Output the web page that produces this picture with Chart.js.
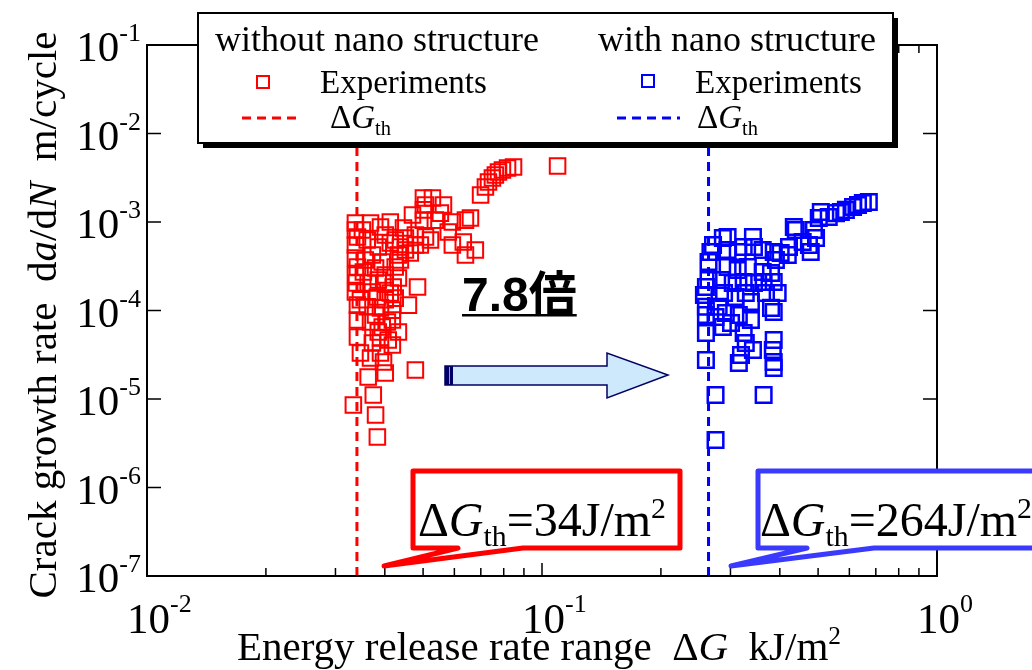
<!DOCTYPE html>
<html>
<head>
<meta charset="utf-8">
<script src="https://cdn.jsdelivr.net/npm/chart.js@4.4.0/dist/chart.umd.min.js"></script>
<style>
  html, body { margin: 0; padding: 0; background: #fff; }
  #wrap { width: 1032px; height: 670px; position: relative; }
</style>
</head>
<body>
<div id="wrap"><canvas id="grafico"></canvas></div>
<script>
// eixo x: ΔG (kJ/m2), eixo y: da/dN (m/cycle)
const semNanoDG = [0.0699, 0.0719, 0.0732, 0.0749, 0.0762, 0.0776, 0.0794, 0.0818, 0.0847, 0.1095,
  0.0501, 0.0507, 0.0501, 0.0528, 0.0563, 0.0537, 0.0501, 0.0593, 0.0640, 0.0659,
  0.0579, 0.0593, 0.0632, 0.0678, 0.0640, 0.0337, 0.0341, 0.0337, 0.0341, 0.0337,
  0.0341, 0.0341, 0.0347, 0.0368, 0.0390, 0.0413, 0.0446, 0.0361, 0.0385, 0.0413,
  0.0438, 0.0464, 0.0357, 0.0379, 0.0401, 0.0425, 0.0363, 0.0401, 0.0420, 0.0383,
  0.0413, 0.0361, 0.0390, 0.0418, 0.0368, 0.0394, 0.0418, 0.0433, 0.0372, 0.0390,
  0.0408, 0.0368, 0.0390, 0.0401, 0.0363, 0.0374, 0.0333, 0.0379, 0.0383, 0.0484,
  0.0459, 0.0478, 0.0351, 0.0401, 0.0425, 0.0451, 0.0478, 0.0372, 0.0394, 0.0438,
  0.0353, 0.0385, 0.0433, 0.0372, 0.0401, 0.0425, 0.0379, 0.0406, 0.0385, 0.0418,
  0.0397, 0.0347, 0.0470, 0.0553, 0.0522, 0.0492, 0.0478, 0.0507, 0.0451, 0.0433,
  0.0337, 0.0337, 0.0337, 0.0341, 0.0339];
const semNanoTaxa = [2.02e-3, 2.49e-3, 2.83e-3, 3.14e-3, 3.40e-3, 3.67e-3, 3.87e-3, 4.07e-3, 4.18e-3, 4.30e-3,
  1.87e-3, 1.56e-3, 1.37e-3, 1.87e-3, 1.56e-3, 1.05e-3, 1.05e-3, 1.00e-3, 1.05e-3, 1.11e-3,
  7.72e-4, 5.50e-4, 5.95e-4, 4.83e-4, 4.24e-4, 9.75e-4, 6.77e-4, 3.92e-4, 3.10e-4, 1.62e-4,
  7.82e-5, 5.02e-5, 3.31e-5, 9.75e-4, 8.79e-4, 1.00e-3, 8.56e-4, 6.27e-4, 5.22e-4, 5.79e-4,
  5.22e-4, 4.47e-4, 3.72e-4, 3.02e-4, 2.52e-4, 3.10e-4, 2.05e-4, 2.05e-4, 1.84e-4, 1.42e-4,
  1.58e-4, 1.10e-4, 1.07e-4, 1.01e-4, 7.42e-5, 6.51e-5, 7.82e-5, 5.72e-5, 4.30e-5, 4.89e-5,
  4.64e-5, 2.91e-5, 3.31e-5, 1.97e-5, 1.77e-5, 1.11e-5, 8.55e-6, 6.59e-6, 3.72e-6, 1.84e-4,
  1.15e-4, 2.13e-5, 8.12e-4, 7.13e-4, 6.27e-4, 6.60e-4, 7.13e-4, 4.24e-4, 3.53e-4, 3.72e-4,
  2.72e-4, 2.21e-4, 2.33e-4, 1.62e-4, 1.32e-4, 1.38e-4, 8.90e-5, 7.42e-5, 5.72e-5, 4.07e-5,
  2.62e-5, 1.32e-4, 1.20e-3, 1.26e-3, 6.27e-4, 5.50e-4, 5.50e-4, 6.77e-4, 4.83e-4, 4.24e-4,
  8.12e-4, 5.50e-4, 2.52e-4, 1.15e-4, 2.05e-4];

const comNanoDG = [0.672, 0.649, 0.631, 0.613, 0.588, 0.571, 0.555, 0.532, 0.508, 0.502,
  0.434, 0.439, 0.488, 0.494, 0.479, 0.474, 0.457, 0.422, 0.419,
  0.295, 0.342, 0.287, 0.271, 0.267, 0.264, 0.264, 0.260, 0.257, 0.260,
  0.260, 0.260, 0.260, 0.275, 0.275, 0.364, 0.275, 0.280,
  0.295, 0.313, 0.324, 0.344, 0.362, 0.386, 0.402, 0.391,
  0.295, 0.313, 0.332, 0.362, 0.380,
  0.284, 0.304, 0.324, 0.344, 0.364, 0.386,
  0.289, 0.309, 0.328, 0.338, 0.369, 0.395,
  0.292, 0.315, 0.338, 0.380, 0.386,
  0.324, 0.328, 0.342, 0.319, 0.315,
  0.386, 0.384, 0.386, 0.386, 0.301, 0.287];
const comNanoTaxa = [1.68e-3, 1.64e-3, 1.56e-3, 1.48e-3, 1.37e-3, 1.30e-3, 1.26e-3, 1.14e-3, 1.30e-3, 1.11e-3,
  8.79e-4, 8.12e-4, 8.12e-4, 6.60e-4, 4.58e-4, 5.50e-4, 5.95e-4, 5.22e-4, 4.24e-4,
  6.77e-4, 6.77e-4, 6.60e-4, 5.50e-4, 4.58e-4, 3.53e-4, 2.21e-4, 1.84e-4, 1.50e-4, 1.10e-4,
  8.90e-5, 5.57e-5, 2.76e-5, 1.11e-5, 3.44e-6, 1.11e-5, 8.45e-5, 1.10e-4,
  4.83e-4, 4.58e-4, 5.22e-4, 5.22e-4, 4.83e-4, 4.58e-4, 4.47e-4, 3.72e-4,
  3.10e-4, 2.87e-4, 3.10e-4, 2.72e-4, 2.65e-4,
  2.21e-4, 2.05e-4, 2.10e-4, 2.05e-4, 2.10e-4, 2.10e-4,
  1.58e-4, 1.42e-4, 1.58e-4, 1.25e-4, 1.58e-4, 1.58e-4,
  9.37e-5, 8.90e-5, 7.82e-5, 1.07e-4, 9.62e-5,
  5.57e-5, 4.30e-5, 3.58e-5, 3.14e-5, 2.55e-5,
  4.64e-5, 3.58e-5, 2.62e-5, 2.24e-5, 7.23e-5, 6.51e-5];

const limiarSemNano = 0.034;   // ΔGth = 34 J/m2
const limiarComNano = 0.264;   // ΔGth = 264 J/m2
const faixaTaxa = [1e-7, 1e-1];
const decadasX = [0.01, 0.1, 1];
const rotulosX = ['-2', '-1', '0'];
const decadasY = [1e-7, 1e-6, 1e-5, 1e-4, 1e-3, 1e-2, 1e-1];
const rotulosY = ['-7', '-6', '-5', '-4', '-3', '-2', '-1'];

const serif = "'Liberation Serif','Times New Roman',serif";

function pares(xs, ys) { return xs.map((x, i) => ({ x: x, y: ys[i] })); }

// escreve texto com italico / subscrito / sobrescrito
function textoRico(ctx, partes, x, y, tam, alinha) {
  const fonte = p => (p.i ? 'italic ' : '') + ((p.sub || p.sup) ? tam * 0.62 : tam) + 'px ' + serif;
  let total = 0;
  partes.forEach(p => { ctx.font = fonte(p); p.w = ctx.measureText(p.t).width; total += p.w; });
  let cx = alinha === 'center' ? x - total / 2 : (alinha === 'right' ? x - total : x);
  partes.forEach(p => {
    ctx.font = fonte(p);
    const dy = p.sub ? tam * 0.2 : (p.sup ? -tam * 0.38 : 0);
    ctx.fillText(p.t, cx, y + dy);
    cx += p.w;
  });
  return total;
}

function balao(ctx, pts, cor) {
  ctx.save();
  ctx.beginPath();
  ctx.moveTo(pts[0][0], pts[0][1]);
  for (let i = 1; i < pts.length; i++) ctx.lineTo(pts[i][0], pts[i][1]);
  ctx.closePath();
  ctx.fillStyle = '#fff';
  ctx.fill();
  ctx.lineWidth = 5;
  ctx.lineJoin = 'round';
  ctx.strokeStyle = cor;
  ctx.stroke();
  ctx.restore();
}

const decoracao = {
  id: 'decoracao',
  afterDraw(chart) {
    const ctx = chart.ctx;
    const sx = chart.scales.x, sy = chart.scales.y;
    const a = chart.chartArea;
    ctx.save();
    ctx.strokeStyle = '#000';
    ctx.fillStyle = '#000';
    ctx.lineWidth = 2;
    ctx.strokeRect(a.left, a.top, a.right - a.left, a.bottom - a.top);

    // ticks x (maiores e menores, em cima e embaixo)
    ctx.lineWidth = 1.5;
    decadasX.forEach((d, k) => {
      for (let m = 1; m <= 9; m++) {
        if (k === decadasX.length - 1 && m > 1) break;
        const px = sx.getPixelForValue(d * m);
        const len = m === 1 ? 13 : 8;
        ctx.beginPath();
        ctx.moveTo(px, a.bottom); ctx.lineTo(px, a.bottom - len);
        ctx.moveTo(px, a.top); ctx.lineTo(px, a.top + len);
        ctx.stroke();
      }
    });
    // ticks y
    decadasY.forEach(d => {
      const py = sy.getPixelForValue(d);
      ctx.beginPath();
      ctx.moveTo(a.left, py); ctx.lineTo(a.left + 14, py);
      ctx.moveTo(a.right, py); ctx.lineTo(a.right - 14, py);
      ctx.stroke();
    });

    // rotulos dos ticks
    ctx.textBaseline = 'alphabetic';
    ctx.font = '43px ' + serif;
    const w10 = ctx.measureText('10').width;
    decadasY.forEach((d, i) => {
      const py = sy.getPixelForValue(d);
      ctx.font = '26px ' + serif;
      const ws = ctx.measureText(rotulosY[i]).width;
      const x0 = 141 - ws - w10;
      ctx.font = '43px ' + serif;
      ctx.fillText('10', x0, py + 16);
      ctx.font = '26px ' + serif;
      ctx.fillText(rotulosY[i], x0 + w10, py - 4);
    });
    decadasX.forEach((d, i) => {
      const px = sx.getPixelForValue(d);
      ctx.font = '43px ' + serif;
      ctx.fillText('10', px - 20, 633);
      ctx.font = '26px ' + serif;
      ctx.fillText(rotulosX[i], px - 20 + w10, 612);
    });

    // titulos dos eixos
    textoRico(ctx, [{ t: 'Energy release rate range  Δ' }, { t: 'G', i: true }, { t: '  kJ/m' }, { t: '2', sup: true }],
      539, 660, 41, 'center');
    ctx.save();
    ctx.translate(56, 315);
    ctx.rotate(-Math.PI / 2);
    textoRico(ctx, [{ t: 'Crack growth rate  d' }, { t: 'a', i: true }, { t: '/d' }, { t: 'N', i: true }, { t: '  m/cycle' }],
      0, 0, 41, 'center');
    ctx.restore();

    // legenda
    ctx.fillStyle = '#000';
    ctx.fillRect(203, 18, 695, 130);
    ctx.fillStyle = '#fff';
    ctx.fillRect(198, 13, 695, 130);
    ctx.lineWidth = 2;
    ctx.strokeStyle = '#000';
    ctx.strokeRect(198, 13, 695, 130);
    ctx.fillStyle = '#000';
    ctx.font = '36px ' + serif;
    ctx.fillText('without nano structure', 215, 51);
    ctx.fillText('with nano structure', 598, 51);
    ctx.font = '33px ' + serif;
    ctx.fillText('Experiments', 320, 93);
    ctx.fillText('Experiments', 695, 93);
    ctx.lineWidth = 2;
    ctx.strokeStyle = '#ff0000';
    ctx.strokeRect(257, 76, 12, 12);
    ctx.strokeStyle = '#0000ff';
    ctx.strokeRect(642, 75, 12, 12);
    ctx.lineWidth = 3;
    ctx.setLineDash([9, 6]);
    ctx.strokeStyle = '#ff0000';
    ctx.beginPath(); ctx.moveTo(242, 118); ctx.lineTo(302, 118); ctx.stroke();
    ctx.strokeStyle = '#0000ff';
    ctx.beginPath(); ctx.moveTo(617, 118); ctx.lineTo(680, 118); ctx.stroke();
    ctx.setLineDash([]);
    ctx.fillStyle = '#000';
    textoRico(ctx, [{ t: 'Δ' }, { t: 'G', i: true }, { t: 'th', sub: true }], 330, 128, 33, 'left');
    textoRico(ctx, [{ t: 'Δ' }, { t: 'G', i: true }, { t: 'th', sub: true }], 697, 128, 33, 'left');

    // 7.8倍
    ctx.font = "bold 48px 'Liberation Sans','Noto Sans CJK JP',sans-serif";
    ctx.fillText('7.8倍', 462, 311);
    const wt = ctx.measureText('7.8倍').width;
    ctx.fillRect(462, 314, wt, 2.5);

    // seta
    ctx.beginPath();
    ctx.moveTo(445, 366); ctx.lineTo(607, 366); ctx.lineTo(607, 353);
    ctx.lineTo(668, 375); ctx.lineTo(607, 398); ctx.lineTo(607, 385);
    ctx.lineTo(445, 385); ctx.closePath();
    ctx.fillStyle = '#cde9fb';
    ctx.fill();
    ctx.lineWidth = 1.5;
    ctx.strokeStyle = '#000066';
    ctx.stroke();
    ctx.fillStyle = '#000066';
    ctx.fillRect(445, 366, 8, 19);
    ctx.fillStyle = '#8fa0d0';
    ctx.fillRect(449, 367, 1, 17);

    // baloes
    balao(ctx, [[413, 471], [680, 471], [680, 548], [523, 548], [384, 566], [458, 548], [413, 548]], '#ff0000');
    balao(ctx, [[758, 471], [1045, 471], [1045, 548], [874, 548], [731, 566], [807, 548], [758, 548]], '#3a3aff');
    ctx.fillStyle = '#000';
    textoRico(ctx, [{ t: 'Δ' }, { t: 'G', i: true }, { t: 'th', sub: true }, { t: '=34J/m' }, { t: '2', sup: true }],
      418, 536, 48, 'left');
    textoRico(ctx, [{ t: 'Δ' }, { t: 'G', i: true }, { t: 'th', sub: true }, { t: '=264J/m' }, { t: '2', sup: true }],
      760, 536, 48, 'left');
    ctx.restore();
  }
};

const dadosGrafico = document.getElementById('grafico');
const grafico = new Chart(dadosGrafico, {
  type: 'scatter',
  data: {
    datasets: [
      {
        type: 'line', label: 'ΔGth without', data: faixaTaxa.map(y => ({ x: limiarSemNano, y: y })),
        borderColor: '#ff0000', borderWidth: 3, borderDash: [9, 6], pointRadius: 0, fill: false
      },
      {
        type: 'line', label: 'ΔGth with', data: faixaTaxa.map(y => ({ x: limiarComNano, y: y })),
        borderColor: '#0000ff', borderWidth: 3, borderDash: [9, 6], pointRadius: 0, fill: false
      },
      {
        label: 'without nano structure', data: pares(semNanoDG, semNanoTaxa),
        pointStyle: 'rect', pointRadius: 11, borderWidth: 2,
        borderColor: '#ff0000', backgroundColor: 'rgba(0,0,0,0)'
      },
      {
        label: 'with nano structure', data: pares(comNanoDG, comNanoTaxa),
        pointStyle: 'rect', pointRadius: 11, borderWidth: 2.5,
        borderColor: '#0000ff', backgroundColor: 'rgba(0,0,0,0)'
      }
    ]
  },
  options: {
    responsive: true,
    maintainAspectRatio: false,
    animation: false,
    devicePixelRatio: 1,
    layout: { padding: { left: 147, right: 95, top: 45, bottom: 94 } },
    plugins: { legend: { display: false }, tooltip: { enabled: false } },
    scales: {
      x: { type: 'logarithmic', min: 0.01, max: 1, display: false },
      y: { type: 'logarithmic', min: 1e-7, max: 1e-1, display: false }
    }
  },
  plugins: [decoracao]
});
</script>
</body>
</html>
